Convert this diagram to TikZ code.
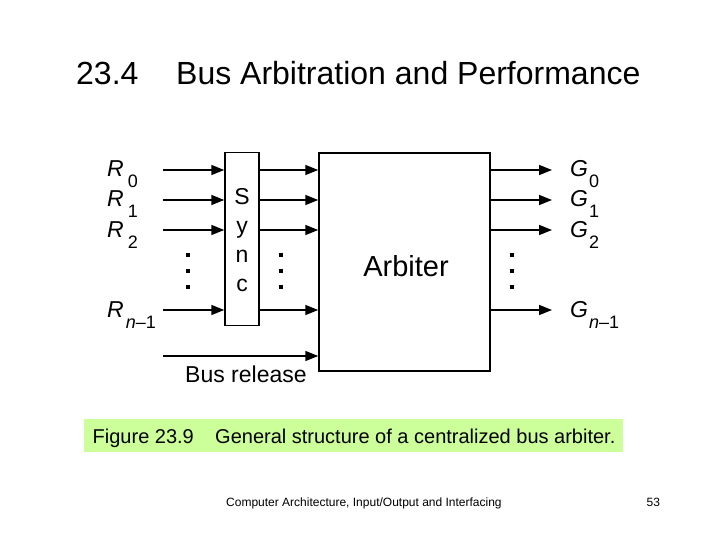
\documentclass[tikz,border=0pt]{standalone}
\usepackage{fontspec}
\setmainfont{Liberation Sans}
\usepackage{xcolor}
\usetikzlibrary{arrows.meta, positioning}

\definecolor{capgreen}{RGB}{204,255,153}
% signal name with a lowered index
\newcommand{\sig}[3][4pt]{\textit{#2}\kern#1\raisebox{-11pt}{\fontsize{18}{18}\selectfont #3}}

\begin{document}
\begin{tikzpicture}[
  x=1pt, y=-1pt,
  box/.style = {draw, line width=1.5pt, inner sep=0pt},
  arr/.style = {-{Triangle[length=13pt,width=10pt]}, line width=1.6pt},
  lbl/.style = {inner sep=0pt, anchor=base west, font=\fontsize{23}{23}\selectfont},
  dot/.style = {fill, inner sep=0pt, minimum size=4pt}
]
\useasboundingbox (0,0) rectangle (720,540);

% heading
\node[lbl, font=\fontsize{32}{32}\selectfont] (secno) at (76,85) {23.4};
\node[lbl, font=\fontsize{32}{32}\selectfont] (title) at (176,85) {Bus Arbitration and Performance};

% blocks
\node[box, minimum width=34pt, minimum height=173pt] (sync) at (242,239) {};
\node[align=center, inner sep=0pt, font=\fontsize{23}{29}\selectfont] (synclbl) at (242,240) {S\\y\\n\\c};
\node[box, minimum width=171pt, minimum height=218pt] (arb) at (404.5,262) {};
\node[inner sep=0pt, font=\fontsize{29}{29}\selectfont] (arblbl) at (406,266) {Arbiter};

% request lines
\coordinate (r0) at (163,170);
\coordinate (r1) at (163,200);
\coordinate (r2) at (163,230);
\coordinate (rn) at (163,310);
\draw[arr] (r0) -- (r0 -| sync.west);
\draw[arr] (r1) -- (r1 -| sync.west);
\draw[arr] (r2) -- (r2 -| sync.west);
\draw[arr] (rn) -- (rn -| sync.west);
\draw[arr] (r0 -| sync.east) -- (r0 -| arb.west);
\draw[arr] (r1 -| sync.east) -- (r1 -| arb.west);
\draw[arr] (r2 -| sync.east) -- (r2 -| arb.west);
\draw[arr] (rn -| sync.east) -- (rn -| arb.west);
\node[lbl] (r0lbl) at (107,177) {\sig{R}{0}};
\node[lbl] (r1lbl) at (107,207) {\sig{R}{1}};
\node[lbl] (r2lbl) at (107,237) {\sig{R}{2}};
\node[lbl] (rnlbl) at (107,317) {\sig[2pt]{R}{\textit{n}–1}};

% grant lines
\coordinate (g0) at (552,170);
\coordinate (g1) at (552,200);
\coordinate (g2) at (552,230);
\coordinate (gn) at (552,310);
\draw[arr] (g0 -| arb.east) -- (g0);
\draw[arr] (g1 -| arb.east) -- (g1);
\draw[arr] (g2 -| arb.east) -- (g2);
\draw[arr] (gn -| arb.east) -- (gn);
\node[lbl] (g0lbl) at (570,177) {\sig[1pt]{G}{0}};
\node[lbl] (g1lbl) at (570,207) {\sig[1pt]{G}{1}};
\node[lbl] (g2lbl) at (570,237) {\sig[1pt]{G}{2}};
\node[lbl] (gnlbl) at (570,317) {\sig[1pt]{G}{\textit{n}–1}};

% bus release
\coordinate (rel) at (163,356);
\draw[arr] (rel) -- (rel -| arb.west);
\node[lbl] (rellbl) at (185,382) {Bus release};

% ellipsis dots
\foreach \y [count=\i] in {255,271,287} {
  \node[dot] (dl\i) at (188,\y) {};
  \node[dot] (dm\i) at (281,\y) {};
  \node[dot] (dr\i) at (512,\y) {};
}

% caption
\node[fill=capgreen, inner sep=0pt, minimum width=539pt, minimum height=33pt] (cap) at (353.5,435.5) {};
\node[lbl, font=\fontsize{20}{20}\selectfont] (capno) at (92.5,443.5) {Figure 23.9};
\node[lbl, font=\fontsize{20}{20}\selectfont] (captxt) at (215,443.5) {General structure of a centralized bus arbiter.};

% footer
\node[lbl, font=\fontsize{12}{12}\selectfont] (foot) at (226,506) {Computer Architecture, Input/Output and Interfacing};
\node[lbl, font=\fontsize{12}{12}\selectfont] (page) at (646.5,506) {53};
\end{tikzpicture}
\end{document}
